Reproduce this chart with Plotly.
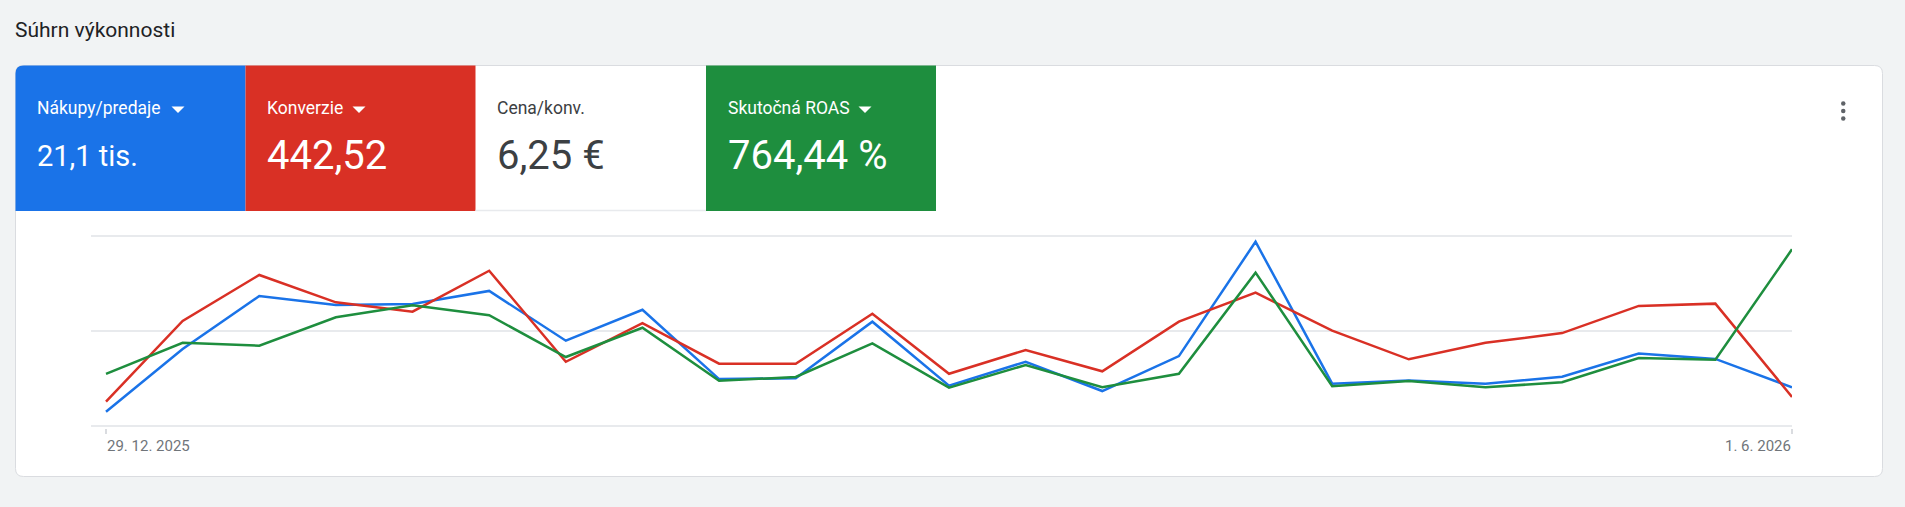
import plotly.graph_objects as go
import pandas as pd

# ---------------- data ----------------
weeks = ["2025-12-29", "2026-01-05", "2026-01-12", "2026-01-19", "2026-01-26",
         "2026-02-02", "2026-02-09", "2026-02-16", "2026-02-23", "2026-03-02",
         "2026-03-09", "2026-03-16", "2026-03-23", "2026-03-30", "2026-04-06",
         "2026-04-13", "2026-04-20", "2026-04-27", "2026-05-04", "2026-05-11",
         "2026-05-18", "2026-05-25", "2026-06-01"]

# values, as % of each metric's own (hidden) axis
nakupy = [7.5, 40.5, 68.4, 63.7, 64.2, 71.1, 44.9, 61.2, 24.7, 25.1, 54.9, 21.2,
          33.8, 18.4, 36.8, 97.0, 22.3, 24.0, 22.3, 25.9, 38.1, 35.3, 20.4]
konverzie = [12.8, 55.3, 79.5, 65.1, 60.2, 81.7, 33.8, 54.1, 32.8, 32.8, 59.1, 27.5,
             40.0, 28.8, 54.9, 70.2, 50.2, 35.1, 43.8, 48.9, 63.2, 64.4, 15.3]
roas = [27.4, 43.8, 42.3, 57.2, 63.5, 58.3, 36.3, 51.7, 23.8, 25.8, 43.5, 20.2,
        32.1, 20.4, 27.5, 80.7, 20.9, 23.7, 20.4, 23.0, 35.8, 34.9, 93.0]

title_text = "Súhrn výkonnosti"
tile_labels = ["Nákupy/predaje", "Konverzie", "Cena/konv.", "Skutočná ROAS"]
tile_values = ["21,1 tis.", "442,52", "6,25 €", "764,44 %"]
tick_labels = ["29. 12. 2025", "1. 6. 2026"]
grid_vals = [0, 50, 100]

# ---------------- layout helpers ----------------
W, H = 1905, 507
BLUE, RED, GREEN = "#1a73e8", "#d93025", "#1e8e3e"
FONT = "Roboto"


def px(x):
    return x / W


def py(y):
    return 1 - y / H


def rpath(x0, y0, x1, y1, tl=0, tr=0, br=0, bl=0):
    P = lambda x, y: f"{px(x):.6f},{py(y):.6f}"
    s = f"M{P(x0 + tl, y0)} L{P(x1 - tr, y0)} "
    if tr:
        s += f"Q{P(x1, y0)} {P(x1, y0 + tr)} "
    s += f"L{P(x1, y1 - br)} "
    if br:
        s += f"Q{P(x1, y1)} {P(x1 - br, y1)} "
    s += f"L{P(x0 + bl, y1)} "
    if bl:
        s += f"Q{P(x0, y1)} {P(x0, y1 - bl)} "
    s += f"L{P(x0, y0 + tl)} "
    if tl:
        s += f"Q{P(x0, y0)} {P(x0 + tl, y0)} "
    return s + "Z"


fig = go.Figure()

for vals, col in [(nakupy, BLUE), (konverzie, RED), (roas, GREEN)]:
    fig.add_trace(go.Scatter(x=weeks, y=vals, mode="lines",
                             line=dict(color=col, width=2.5),
                             hoverinfo="skip", showlegend=False))

shapes = []
# card
shapes.append(dict(type="path", xref="paper", yref="paper", layer="below",
                   path=rpath(15.5, 65.5, 1882.5, 476.5, 8, 8, 8, 8),
                   fillcolor="white", line=dict(color="#dadce0", width=1)))
# tiles
tile_x = [15.5, 245.5, 475.5, 706, 936]
tile_fill = [BLUE, RED, None, GREEN]
for i, f in enumerate(tile_fill):
    if f is None:
        shapes.append(dict(type="line", xref="paper", yref="paper", layer="below",
                           x0=px(tile_x[i]), x1=px(tile_x[i + 1]), y0=py(210.5), y1=py(210.5),
                           line=dict(color="#e8eaed", width=1.5)))
        continue
    shapes.append(dict(type="path", xref="paper", yref="paper", layer="below",
                       path=rpath(tile_x[i], 65.5, tile_x[i + 1], 211, 8 if i == 0 else 0),
                       fillcolor=f, line=dict(width=0)))

# dropdown triangles
tri_x = [171.5, 352.5, None, 858.5]
for i, tx in enumerate(tri_x):
    if tx is None:
        continue
    shapes.append(dict(type="path", xref="paper", yref="paper", layer="above",
                       path=f"M{px(tx)},{py(106.5)} L{px(tx + 13)},{py(106.5)} L{px(tx + 6.5)},{py(113)} Z",
                       fillcolor="white", line=dict(width=0)))

# kebab menu
for cy in [103.5, 111, 118.5]:
    shapes.append(dict(type="circle", xref="paper", yref="paper", layer="above",
                       x0=px(1841), x1=px(1845.5), y0=py(cy - 2.25), y1=py(cy + 2.25),
                       fillcolor="#5f6368", line=dict(width=0)))

annotations = []
annotations.append(dict(text=title_text, x=px(14), y=py(30), xref="paper", yref="paper",
                        xanchor="left", yanchor="middle", showarrow=False, borderpad=0,
                        font=dict(family=FONT, size=21, color="#202124")))
lab_col = ["white", "white", "#3c4043", "white"]
val_size = [29, 40, 40, 40]
for i in range(4):
    x0 = tile_x[i] + 20.5
    annotations.append(dict(text=tile_labels[i], x=px(x0), y=py(108.5), xref="paper", yref="paper",
                            xanchor="left", yanchor="middle", showarrow=False, borderpad=0,
                            font=dict(family=FONT, size=17.5, color=lab_col[i])))
    annotations.append(dict(text=tile_values[i], x=px(x0), y=py(155.5), xref="paper", yref="paper",
                            xanchor="left", yanchor="middle", showarrow=False, borderpad=0,
                            font=dict(family=FONT, size=val_size[i], color=lab_col[i])))

annotations.append(dict(text=tick_labels[0], x=weeks[0], y=py(445.5), xref="x", yref="paper",
                        xanchor="left", yanchor="middle", showarrow=False, borderpad=0,
                        font=dict(family=FONT, size=15, color="#70757a")))
annotations.append(dict(text=tick_labels[1], x=weeks[-1], y=py(445.5), xref="x", yref="paper",
                        xanchor="right", yanchor="middle", showarrow=False, borderpad=0,
                        font=dict(family=FONT, size=15, color="#70757a")))

x_start = pd.Timestamp(weeks[0]) - pd.Timedelta(days=7 * 15 / 76.636)
pad = 50 / 95 * 2  # 2 px of headroom so edge gridlines are drawn

fig.update_layout(
    width=W, height=H,
    margin=dict(l=0, r=0, t=0, b=0),
    paper_bgcolor="#f1f3f4",
    plot_bgcolor="rgba(0,0,0,0)",
    shapes=shapes,
    annotations=annotations,
    xaxis=dict(domain=[px(91), px(1792)], type="date",
               range=[x_start, pd.Timestamp(weeks[-1])],
               showgrid=False, zeroline=False, showline=False,
               tickvals=[weeks[0], weeks[-1]], ticks="outside", ticklen=5,
               tickcolor="#dadce0", tickwidth=1.5, showticklabels=False,
               fixedrange=True),
    yaxis=dict(domain=[py(428), py(234)], range=[-pad, 100 + pad],
               tickvals=grid_vals, showticklabels=False, ticks="",
               showgrid=True, gridcolor="#e8eaed", gridwidth=2,
               zeroline=False, showline=False, fixedrange=True),
    hovermode=False,
)

fig.write_html("out.html", config={"displayModeBar": False})
